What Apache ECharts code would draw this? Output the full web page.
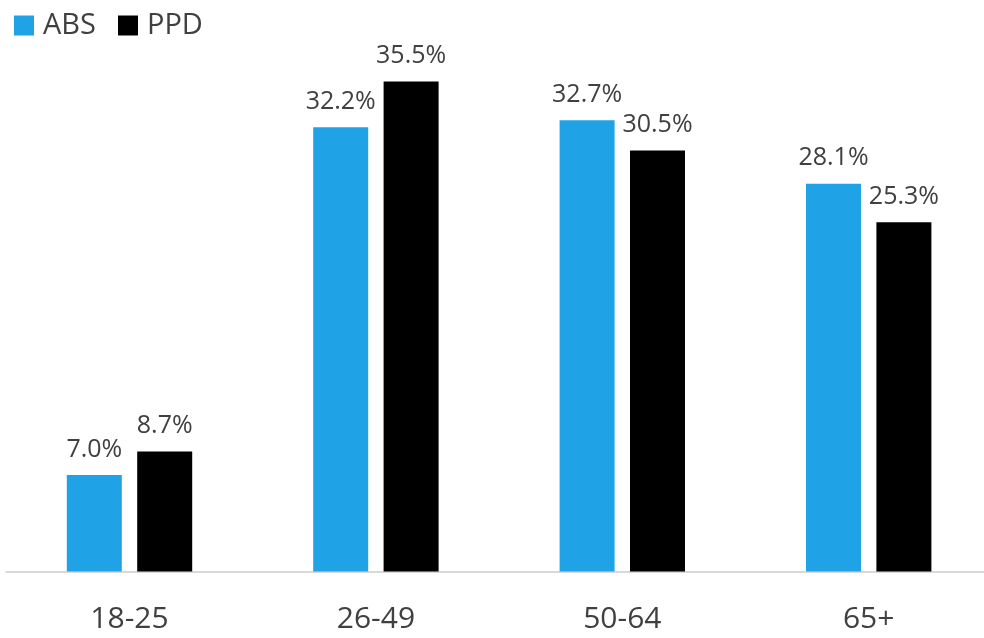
<!DOCTYPE html>
<html>
<head>
<meta charset="utf-8">
<script src="https://cdn.jsdelivr.net/npm/echarts@6/dist/echarts.min.js"></script>
<style>html,body{margin:0;padding:0;background:#fff;}#c{width:984px;height:638px;}</style>
</head>
<body>
<div id="c"></div>
<script>
const categories = ['18-25', '26-49', '50-64', '65+'];
const absValues = [7.0, 32.2, 32.7, 28.1];
const ppdValues = [8.7, 35.5, 30.5, 25.3];
const seriesNames = ['ABS', 'PPD'];

const chart = echarts.init(document.getElementById('c'), null, {renderer: 'canvas'});
const font = '"Open Sans", "Noto Sans", sans-serif';
const labelCfg = {
  show: true, position: 'top', distance: 13,
  formatter: p => p.value.toFixed(1) + '%',
  color: '#404040', fontSize: 25, fontFamily: font
};
chart.setOption({
  animation: false,
  backgroundColor: '#fff',
  legend: {
    left: 9, top: 6,
    itemWidth: 20, itemHeight: 20, itemGap: 22,
    icon: 'rect',
    textStyle: {fontSize: 29, color: '#404040', fontFamily: font, padding: [0, 0, 0, 4]},
    data: seriesNames
  },
  grid: {left: 6.3, width: 985.6, top: 19.5, bottom: 66.5, containLabel: false, outerBoundsMode: 'none'},
  xAxis: {
    type: 'category', data: categories,
    axisLine: {lineStyle: {color: '#d9d9d9', width: 2}},
    axisTick: {show: false},
    axisLabel: {fontSize: 30, color: '#404040', fontFamily: font, margin: 33}
  },
  yAxis: {
    type: 'value', min: 0, max: 40,
    show: false, splitLine: {show: false}
  },
  series: [
    {name: seriesNames[0], type: 'bar', data: absValues, barWidth: 55, barGap: '28%',
     itemStyle: {color: '#1FA3E6'}, label: labelCfg},
    {name: seriesNames[1], type: 'bar', data: ppdValues, barWidth: 55, barGap: '28%',
     itemStyle: {color: '#000000'}, label: labelCfg}
  ]
});
</script>
</body>
</html>
